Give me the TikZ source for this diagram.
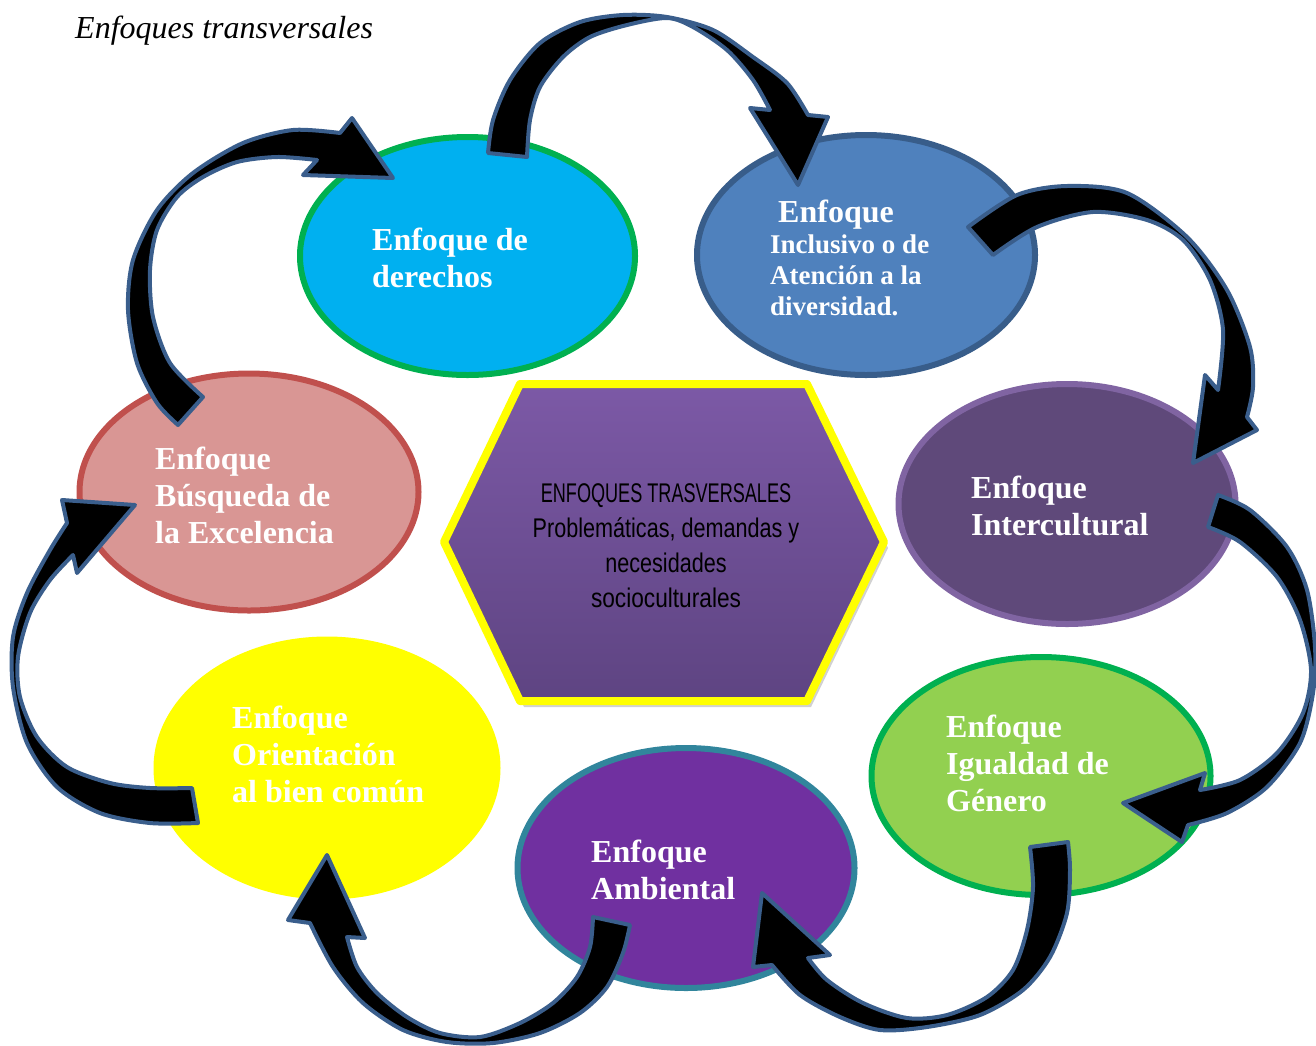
\documentclass[tikz,border=0pt]{standalone}
\usepackage{graphicx}
\usepackage{fontspec}
\setmainfont{Liberation Serif}
\newfontfamily\hexfont{Liberation Sans}
\usetikzlibrary{shapes.geometric}
\definecolor{arrowblue}{HTML}{3A5E8C}
\definecolor{derfill}{HTML}{00B0F0}
\definecolor{greenb}{HTML}{00B050}
\definecolor{incfill}{HTML}{4F81BD}
\definecolor{incborder}{HTML}{385D8A}
\definecolor{interfill}{HTML}{5F497A}
\definecolor{interborder}{HTML}{8064A2}
\definecolor{igufill}{HTML}{92D050}
\definecolor{ambfill}{HTML}{7030A0}
\definecolor{ambborder}{HTML}{31859C}
\definecolor{yel}{HTML}{FFFF00}
\definecolor{excfill}{HTML}{D99694}
\definecolor{excborder}{HTML}{C0504D}
\definecolor{hextop}{HTML}{7C59A6}
\definecolor{hexbot}{HTML}{5E4482}
\begin{document}
\begin{tikzpicture}[x=1pt,y=-1pt,
  oval/.style={ellipse, line width=6pt, inner sep=0pt},
  curvarrow/.style={fill=black, draw=arrowblue, line width=4pt, line join=round},
  lbl/.style={text=white, font=\bfseries\fontsize{32}{37}\selectfont, align=left, anchor=base west, inner sep=0pt},
  lblsmall/.style={text=white, font=\bfseries\fontsize{27}{31}\selectfont, align=left, anchor=base west, inner sep=0pt},
]
\useasboundingbox (0,0) rectangle (1316,1045);

% title
\node[anchor=base west, inner sep=0pt, font=\itshape\fontsize{32}{38}\selectfont] (title) at (75,38) {Enfoques transversales};

% ellipses
\node[oval, fill=derfill, draw=greenb, minimum width=335pt, minimum height=238pt] (der) at (467.5,256) {};
\node[oval, fill=incfill, draw=incborder, minimum width=338pt, minimum height=240pt] (inc) at (866,255) {};
\node[oval, fill=interfill, draw=interborder, minimum width=337pt, minimum height=240pt] (inter) at (1067,504) {};
\node[oval, fill=igufill, draw=greenb, minimum width=339pt, minimum height=238pt] (igu) at (1041,776) {};
\node[oval, fill=ambfill, draw=ambborder, minimum width=337pt, minimum height=240pt] (amb) at (686,868) {};
\node[oval, fill=yel, draw=none, minimum width=347pt, minimum height=263pt] (bien) at (327,768) {};
\node[oval, fill=excfill, draw=excborder, minimum width=339pt, minimum height=237pt] (exc) at (249,492) {};

% central hexagon
\fill[black, opacity=0.18, line join=round] (448,548) -- (524,390) -- (811,390) -- (888,548) -- (811,707) -- (524,707) -- cycle;
\path[top color=hextop, bottom color=hexbot, draw=yel, line width=8pt, line join=round]
  (444,542) -- (520,384) -- (807,384) -- (884,542) -- (807,701) -- (520,701) -- cycle;
\node[align=center, inner sep=0pt, text=black, font=\hexfont\fontsize{27}{35}\selectfont] (hext) at (666,546)
  {\scalebox{0.67}[1]{ENFOQUES TRASVERSALES}\\
   \scalebox{0.80}[1]{Problemáticas, demandas y}\\
   \scalebox{0.80}[1]{necesidades}\\
   \scalebox{0.84}[1]{socioculturales}};

% curved arrows
% derechos -> inclusivo
\path[curvarrow] plot[smooth] coordinates {(488,153) (493,120) (510,80) (540,43) (580,22) (623,15) (667,17) (713,30) (753,57) (787,83) (808,115)}
  -- (828,117) -- (798,185) -- (750,108)
  -- plot[smooth] coordinates {(770,110) (753,80) (727,50) (693,27) (667,18) (627,25) (590,37) (563,57) (540,87) (530,120) (527,157)} -- cycle;
% inclusivo -> intercultural
\path[curvarrow] plot[smooth] coordinates {(968,227) (1017,195) (1067,186) (1127,193) (1187,237) (1227,290) (1250,347) (1253,387) (1247,417)}
  -- (1257,430) -- (1193,463) -- (1205,375)
  -- plot[smooth] coordinates {(1218,390) (1223,330) (1210,280) (1183,240) (1147,220) (1093,212) (1037,227) (993,255)} -- cycle;
% intercultural -> igualdad
\path[curvarrow] plot[smooth] coordinates {(1218,495) (1250,510) (1287,547) (1307,590) (1315,647) (1313,693) (1300,743) (1267,787) (1227,813) (1188,825)}
  -- (1182,842) -- (1123,803) -- (1205,773)
  -- plot[smooth] coordinates {(1200,790) (1240,780) (1277,753) (1303,713) (1311,670) (1300,620) (1277,577) (1240,542) (1208,527)} -- cycle;
% igualdad -> ambiental
\path[curvarrow] plot[smooth] coordinates {(1068,842) (1070,870) (1067,913) (1050,957) (1023,990) (980,1015) (927,1027) (880,1030) (840,1017) (800,995) (772,965)}
  -- (753,967) -- (762,893) -- (830,955)
  -- plot[smooth] coordinates {(808,958) (827,980) (863,1003) (907,1018) (947,1015) (987,997) (1013,970) (1027,930) (1033,887) (1030,847)} -- cycle;
% ambiental -> bien comun
\path[curvarrow] plot[smooth] coordinates {(630,925) (623,953) (607,987) (580,1013) (540,1033) (493,1043) (447,1042) (403,1030) (363,1003) (333,967) (310,923)}
  -- (288,920) -- (327,855) -- (365,938)
  -- plot[smooth] coordinates {(347,937) (357,967) (377,993) (407,1017) (440,1033) (480,1037) (520,1023) (553,1003) (577,977) (590,947) (593,917)} -- cycle;
% bien comun -> excelencia
\path[curvarrow] plot[smooth] coordinates {(198,823) (150,823) (100,813) (57,787) (27,743) (13,687) (13,637) (27,593) (50,550) (67,523)}
  -- (62,500) -- (135,505) -- (77,573)
  -- plot[smooth] coordinates {(73,555) (50,580) (30,613) (18,657) (20,697) (37,737) (67,767) (110,783) (150,788) (192,788)} -- cycle;
% excelencia -> derechos
\path[curvarrow] plot[smooth] coordinates {(178,425) (157,403) (137,363) (128,310) (133,260) (157,210) (193,173) (243,143) (293,130) (340,133)}
  -- (352,118) -- (393,178) -- (303,175)
  -- plot[smooth] coordinates {(317,160) (277,157) (237,162) (203,177) (177,197) (157,230) (150,270) (153,317) (170,363) (203,397)} -- cycle;

% labels (base anchor = baseline of the last line)
\node[lbl] (tder) at (372,287) {Enfoque de\\derechos};
\node[lbl] (tinc1) at (778,222) {Enfoque};
\node[lblsmall] (tinc2) at (770,315) {Inclusivo o de\\Atención a la\\diversidad.};
\node[lbl] (tinter) at (971,535) {Enfoque\\Intercultural};
\node[lbl] (tigu) at (946,811) {Enfoque\\Igualdad de\\Género};
\node[lbl] (tamb) at (591,899) {Enfoque\\Ambiental};
\node[lbl] (tbien) at (232,802) {Enfoque\\Orientación\\al bien común};
\node[lbl] (texc) at (155,543) {Enfoque\\Búsqueda de\\la Excelencia};
\end{tikzpicture}
\end{document}
